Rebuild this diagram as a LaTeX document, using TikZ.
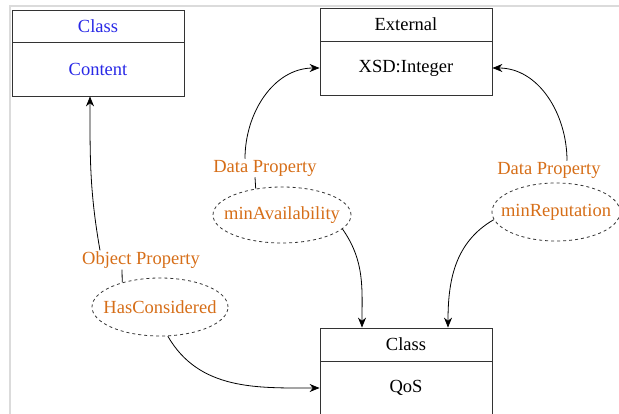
\documentclass[tikz,border=0pt]{standalone}
\usepackage{fontspec}
\setmainfont{Liberation Serif}
\usepackage{xcolor}
\usetikzlibrary{arrows.meta,shapes.geometric}

\definecolor{clsblue}{RGB}{40,40,230}
\definecolor{propor}{RGB}{214,110,24}
\definecolor{boxline}{RGB}{51,51,51}

\begin{document}
\begin{tikzpicture}[x=1pt,y=-1pt,font=\fontsize{18.5}{22}\selectfont]
            \useasboundingbox (0,0) rectangle (619,414);
            \draw[black!14,line width=1.2pt] (10,414) -- (10,6) -- (619,6);

            \begin{scope}[every node/.style = {rectangle, draw=boxline, thick, minimum width=172pt, inner sep=0pt}]
                \node[minimum height=32pt, text=clsblue] (contentHead) at (98, 26)    {Class};
                \node[minimum height=54pt, text=clsblue] (content)     at (98, 69)    {Content};
                \node[minimum height=33pt] (extHead) at (406, 24.5) {External};
                \node[minimum height=54pt] (ext)     at (406, 68)   {XSD:Integer};
                \node[minimum height=33pt] (qosHead) at (406, 344.5) {Class};
                \node[minimum height=54pt] (qos)     at (406, 388)   {QoS};
            \end{scope}

            \begin{scope}[every node/.style = {ellipse, draw=boxline, dashed, thick, text=propor, inner xsep=-12pt, inner ysep=0pt}]
                \node[minimum width=138pt, minimum height=56pt] (avail) at (282,215) {minAvailability};
                \node[minimum width=128pt, minimum height=58pt] (repu)  at (556,212) {minReputation};
                \node[minimum width=136pt, minimum height=58pt] (has)   at (160,307) {HasConsidered};
            \end{scope}

            \begin{scope}[every node/.style = {text=propor, inner sep=1pt}]
                \node (availLbl) at (265,168) {Data Property};
                \node (repuLbl)  at (549,170) {Data Property};
                \node (hasLbl)   at (141,260) {Object Property};
            \end{scope}

            \begin{scope}[>={Stealth[black,length=10pt,width=8pt]},
                            every edge/.style={draw=black,thick}]
                \path (avail.135) edge ([xshift=-10pt]availLbl.south);
                \path (has.147) edge ([xshift=-19pt]hasLbl.south);
                \path [->] ([xshift=-20pt]availLbl.north) edge[out=90,in=180] (ext.west);
                \path [->] (avail.-13) edge[out=-55,in=90] ([xshift=-44pt]qosHead.north);
                \path [->] ([xshift=18pt]repuLbl.north) edge[out=90,in=0] (ext.east);
                \path [->] (repu.187) edge[out=-150,in=90] ([xshift=42pt]qosHead.north);
                \path [->] ([xshift=-41pt]hasLbl.north) edge[out=100,in=-90] ([xshift=-8pt]content.south);
                \path [->] (has.-75) edge[out=-60,in=180] (qos.west);
            \end{scope}
        \end{tikzpicture}
\end{document}
